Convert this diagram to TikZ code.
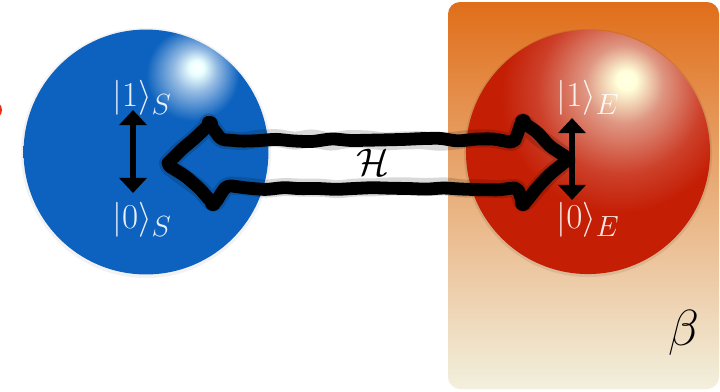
\documentclass[tikz,border=0pt]{standalone}
\usetikzlibrary{arrows.meta, decorations.pathmorphing}

\definecolor{sysblue}{RGB}{12,98,190}
\definecolor{envred}{RGB}{196,30,4}
\definecolor{envglow}{RGB}{222,150,130}
\definecolor{bathtop}{RGB}{224,110,26}
\definecolor{bathbot}{RGB}{242,240,222}
\definecolor{dotred}{RGB}{235,45,20}

% glossy spheres, highlight up and to the right
\pgfdeclareradialshading{sysball}{\pgfpoint{10.5bp}{17.5bp}}{color(0bp)=(white); color(1.5bp)=(white!92!cyan); color(4.5bp)=(sysblue!45!white); color(9.5bp)=(sysblue); color(100bp)=(sysblue)}
\pgfdeclareradialshading{envball}{\pgfpoint{8bp}{15bp}}{color(0bp)=(white!90!yellow); color(2bp)=(white!85!yellow); color(8bp)=(envglow); color(17bp)=(envred!85!white); color(24bp)=(envred); color(100bp)=(envred)}

\begin{document}
\begin{tikzpicture}[
		x=0.025cm, y=-0.025cm,
		ball/.style={circle, inner sep=0pt, minimum size=6.12cm},
		ket/.style={inner sep=0pt, text=white, text opacity=0.9, font=\Huge},
		flip/.style={{Triangle[width=0.68cm,length=0.38cm]}-{Triangle[width=0.68cm,length=0.38cm]}, line width=0.14cm},
		ink/.style={draw=black, line width=0.32cm, line join=round, line cap=round,
			rounded corners=0.1cm, decorate,
			decoration={random steps, segment length=0.45cm, amplitude=0.05cm}},
		inkshade/.style={ink, draw=black, opacity=0.15, line width=0.45cm}]

	\useasboundingbox (0,0) rectangle (720,391);
	\clip (0,0) rectangle (720,391);
	\pgfmathsetseed{7}

	% heat bath
	\shade[top color=bathtop, bottom color=bathbot, rounded corners=0.3cm] (448,2) rectangle (719,389);
	\node[font=\Huge, scale=1.45] (beta) at (684,333) {$\beta$};

	\fill[dotred] (-7,110) circle (9);

	% system and environment
	\fill[black, opacity=0.05] (146,153) circle (125);
	\fill[black, opacity=0.08] (588,153) circle (124);
	\node[ball, shading=sysball] (sys) at (146,152) {};
	\node[ball, shading=envball, minimum size=6.1cm] (env) at (588,152) {};

	\node[ket] (s1) at (142,98) {$|1\rangle_S$};
	\node[ket] (s0) at (142,220) {$|0\rangle_S$};
	\node[ket] (e1) at (588,98) {$|1\rangle_E$};
	\node[ket] (e0) at (588,220) {$|0\rangle_E$};

	\coordinate (sup) at (133,110);
	\coordinate (sdown) at (133,193);
	\coordinate (eup) at (572,118);
	\coordinate (edown) at (572,200);
	\draw[flip] (sup) -- (sdown);
	\draw[flip] (eup) -- (edown);

	% coupling
	\coordinate (hS) at (168,163);
	\coordinate (hE) at (567,160);
	\begin{scope}[shift={(2,6)}]
		\draw[inkshade] ([shift={(42,-39)}]hS) -- (hS) -- ([shift={(45,40)}]hS) -- ([shift={(57,25)}]hS)
			-- ([shift={(-52,28)}]hE) -- ([shift={(-44,43)}]hE) -- (hE) -- ([shift={(-44,-38)}]hE)
			-- ([shift={(-52,-20)}]hE) -- ([shift={(57,-23)}]hS) -- cycle;
	\end{scope}
	\draw[ink] ([shift={(42,-39)}]hS) -- (hS) -- ([shift={(45,40)}]hS) -- ([shift={(57,25)}]hS)
		-- ([shift={(-52,28)}]hE) -- ([shift={(-44,43)}]hE) -- (hE) -- ([shift={(-44,-38)}]hE)
		-- ([shift={(-52,-20)}]hE) -- ([shift={(57,-23)}]hS) -- cycle;
	\foreach \p in {{(42,-39)}, {(45,40)}} {
		\fill ([shift=\p]hS) circle (8);
	}
	\foreach \p in {{(-44,-38)}, {(-44,43)}} {
		\fill ([shift=\p]hE) circle (8);
	}
	\node[font=\Huge, scale=1.1] (ham) at (373,162) {$\mathcal{H}$};

\end{tikzpicture}
\end{document}
